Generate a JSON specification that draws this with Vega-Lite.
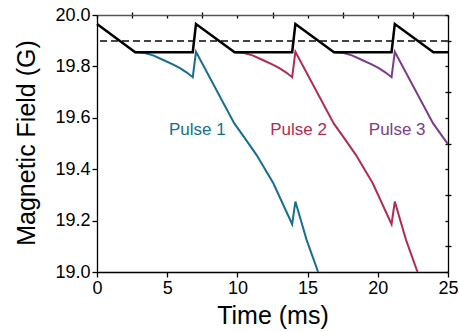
{
  "$schema": "https://vega.github.io/schema/vega-lite/v6.json",
  "autosize": "none",
  "width": 351,
  "height": 257,
  "padding": {"left": 97, "top": 15, "right": 11, "bottom": 60},
  "background": "white",
  "view": {"stroke": null},
  "config": {
    "font": "Liberation Sans",
    "axis": {"labelFont": "Liberation Sans", "titleFont": "Liberation Sans", "labelColor": "black", "titleColor": "black", "tickColor": "black", "domainColor": "black", "domainWidth": 1.3, "tickWidth": 1.3, "grid": false, "titleFontWeight": "normal", "labelFontSize": 18, "titleFontSize": 25, "labelFlush": false}
  },
  "datasets": {
    "pulses": [
      {"t": 2.72, "B": 19.855, "s": "Pulse 1"},
      {"t": 3.4, "B": 19.852, "s": "Pulse 1"},
      {"t": 4.0, "B": 19.843, "s": "Pulse 1"},
      {"t": 4.72, "B": 19.825, "s": "Pulse 1"},
      {"t": 5.4, "B": 19.808, "s": "Pulse 1"},
      {"t": 5.91, "B": 19.793, "s": "Pulse 1"},
      {"t": 6.4, "B": 19.776, "s": "Pulse 1"},
      {"t": 6.82, "B": 19.758, "s": "Pulse 1"},
      {"t": 7.05, "B": 19.857, "s": "Pulse 1"},
      {"t": 9.78, "B": 19.578, "s": "Pulse 1"},
      {"t": 10.54, "B": 19.52, "s": "Pulse 1"},
      {"t": 11.37, "B": 19.455, "s": "Pulse 1"},
      {"t": 12.56, "B": 19.345, "s": "Pulse 1"},
      {"t": 13.90, "B": 19.186, "s": "Pulse 1"},
      {"t": 14.13, "B": 19.274, "s": "Pulse 1"},
      {"t": 14.93, "B": 19.125, "s": "Pulse 1"},
      {"t": 15.75, "B": 19.0, "s": "Pulse 1"},
      {"t": 9.80, "B": 19.855, "s": "Pulse 2"},
      {"t": 10.48, "B": 19.852, "s": "Pulse 2"},
      {"t": 11.08, "B": 19.843, "s": "Pulse 2"},
      {"t": 11.80, "B": 19.825, "s": "Pulse 2"},
      {"t": 12.48, "B": 19.808, "s": "Pulse 2"},
      {"t": 12.99, "B": 19.793, "s": "Pulse 2"},
      {"t": 13.48, "B": 19.776, "s": "Pulse 2"},
      {"t": 13.90, "B": 19.758, "s": "Pulse 2"},
      {"t": 14.13, "B": 19.857, "s": "Pulse 2"},
      {"t": 16.86, "B": 19.578, "s": "Pulse 2"},
      {"t": 17.62, "B": 19.52, "s": "Pulse 2"},
      {"t": 18.45, "B": 19.455, "s": "Pulse 2"},
      {"t": 19.64, "B": 19.345, "s": "Pulse 2"},
      {"t": 20.98, "B": 19.186, "s": "Pulse 2"},
      {"t": 21.21, "B": 19.274, "s": "Pulse 2"},
      {"t": 22.01, "B": 19.125, "s": "Pulse 2"},
      {"t": 22.83, "B": 19.0, "s": "Pulse 2"},
      {"t": 16.88, "B": 19.855, "s": "Pulse 3"},
      {"t": 17.56, "B": 19.852, "s": "Pulse 3"},
      {"t": 18.16, "B": 19.843, "s": "Pulse 3"},
      {"t": 18.88, "B": 19.825, "s": "Pulse 3"},
      {"t": 19.56, "B": 19.808, "s": "Pulse 3"},
      {"t": 20.07, "B": 19.793, "s": "Pulse 3"},
      {"t": 20.56, "B": 19.776, "s": "Pulse 3"},
      {"t": 20.98, "B": 19.758, "s": "Pulse 3"},
      {"t": 21.21, "B": 19.857, "s": "Pulse 3"},
      {"t": 23.94, "B": 19.578, "s": "Pulse 3"},
      {"t": 24.70, "B": 19.52, "s": "Pulse 3"},
      {"t": 25.0, "B": 19.497, "s": "Pulse 3"}
    ],
    "coil": [
      {"t": 0, "B": 19.965},
      {"t": 2.72, "B": 19.855},
      {"t": 6.82, "B": 19.855},
      {"t": 7.05, "B": 19.965},
      {"t": 9.80, "B": 19.855},
      {"t": 13.90, "B": 19.855},
      {"t": 14.13, "B": 19.965},
      {"t": 16.88, "B": 19.855},
      {"t": 20.98, "B": 19.855},
      {"t": 21.21, "B": 19.965},
      {"t": 23.96, "B": 19.855},
      {"t": 25, "B": 19.855}
    ],
    "labels": [
      {"t": 7.14, "B": 19.552, "s": "Pulse 1"},
      {"t": 14.35, "B": 19.552, "s": "Pulse 2"},
      {"t": 21.38, "B": 19.552, "s": "Pulse 3"}
    ]
  },
  "resolve": {"axis": {"x": "independent", "y": "independent"}},
  "layer": [
    {
      "data": {"name": "pulses"},
      "mark": {"type": "line", "strokeWidth": 2, "clip": true},
      "encoding": {
        "x": {"field": "t", "type": "quantitative", "scale": {"domain": [0, 25], "nice": false, "zero": false},
          "axis": {"values": [0, 5, 10, 15, 20, 25], "format": "d", "tickSize": 5, "labelPadding": 2, "title": "Time (ms)", "titleY": 51, "titleBaseline": "alphabetic"}},
        "y": {"field": "B", "type": "quantitative", "scale": {"domain": [19, 20], "nice": false, "zero": false},
          "axis": {"values": [19, 19.2, 19.4, 19.6, 19.8, 20], "format": ".1f", "tickSize": 5, "labelPadding": 2, "title": "Magnetic Field (G)", "titleX": -63, "titleY": 127.5, "titleBaseline": "alphabetic", "titleAngle": -90}},
        "color": {"field": "s", "type": "nominal", "scale": {"domain": ["Pulse 1", "Pulse 2", "Pulse 3"], "range": ["#156f8e", "#b52a53", "#7d3b8d"]}, "legend": null}
      }
    },
    {
      "data": {"name": "coil"},
      "mark": {"type": "point", "opacity": 0},
      "encoding": {
        "x": {"field": "t", "type": "quantitative", "axis": {"values": [2.5, 7.5, 12.5, 17.5, 22.5], "labels": false, "tickSize": 3, "domain": false, "title": null}},
        "y": {"field": "B", "type": "quantitative", "axis": {"values": [19.1, 19.3, 19.5, 19.7, 19.9], "labels": false, "tickSize": 3, "domain": false, "title": null}}
      }
    },
    {
      "data": {"name": "coil"},
      "mark": {"type": "point", "opacity": 0},
      "encoding": {
        "x": {"field": "t", "type": "quantitative", "axis": {"orient": "top", "values": [0, 2.5, 5, 7.5, 10, 12.5, 15, 17.5, 20, 22.5, 25], "labels": false, "tickSize": -3, "title": null, "domainColor": "#555"}},
        "y": {"field": "B", "type": "quantitative", "axis": {"orient": "right", "values": [19, 19.1, 19.2, 19.3, 19.4, 19.5, 19.6, 19.7, 19.8, 19.9, 20], "labels": false, "tickSize": -3, "title": null}}
      }
    },
    {
      "data": {"name": "coil"},
      "mark": {"type": "rule", "strokeDash": [7, 4], "strokeWidth": 1.5, "color": "#444444"},
      "encoding": {
        "y": {"datum": 19.9, "type": "quantitative", "axis": null}
      }
    },
    {
      "data": {"name": "coil"},
      "mark": {"type": "line", "strokeWidth": 2.5, "color": "black"},
      "encoding": {
        "x": {"field": "t", "type": "quantitative", "axis": null},
        "y": {"field": "B", "type": "quantitative", "axis": null}
      }
    },
    {
      "data": {"name": "labels"},
      "mark": {"type": "text", "fontSize": 17, "font": "Liberation Sans", "align": "center", "baseline": "middle"},
      "encoding": {
        "x": {"field": "t", "type": "quantitative", "axis": null},
        "y": {"field": "B", "type": "quantitative", "axis": null},
        "text": {"field": "s"},
        "color": {"field": "s", "type": "nominal", "legend": null}
      }
    }
  ]
}
